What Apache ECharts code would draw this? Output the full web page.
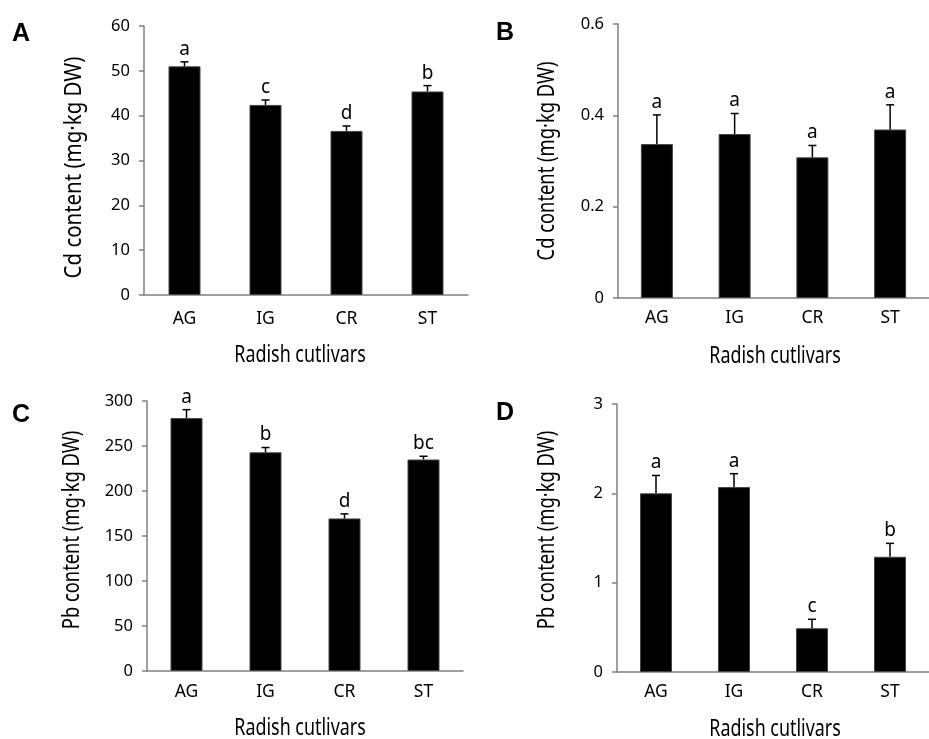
<!DOCTYPE html>
<html>
<head>
<meta charset="utf-8">
<script src="https://cdn.jsdelivr.net/npm/echarts@6/dist/echarts.min.js"></script>
<style>
html,body{margin:0;padding:0;background:#fff;}
#chart{width:929px;height:739px;}
</style>
</head>
<body>
<div id="chart"></div>
<script>
var categories = ['AG', 'IG', 'CR', 'ST'];
var xAxisTitle = 'Radish cutlivars';
var yTitleCd = 'Cd content (mg\u00B7kg DW)';
var yTitlePb = 'Pb content (mg\u00B7kg DW)';

var cdA = [51.0, 42.4, 36.6, 45.4];
var cdAErr = [1.0, 1.1, 1.1, 1.3];
var cdALetters = ['a', 'c', 'd', 'b'];

var cdB = [0.337, 0.359, 0.308, 0.369];
var cdBErr = [0.064, 0.045, 0.026, 0.054];
var cdBLetters = ['a', 'a', 'a', 'a'];

var pbC = [281, 243, 169.5, 235];
var pbCErr = [9.4, 5.3, 5.1, 3.6];
var pbCLetters = ['a', 'b', 'd', 'bc'];

var pbD = [2.0, 2.07, 0.49, 1.29];
var pbDErr = [0.20, 0.15, 0.10, 0.15];
var pbDLetters = ['a', 'a', 'c', 'b'];

var FONT = 'Noto Sans';
var AXIS_GRAY = '#808080';

var panels = [
  {letter: 'A', vals: cdA, err: cdAErr, letters: cdALetters, name: yTitleCd, max: 60, interval: 10,
   grid: {left: 144, top: 26, width: 324, height: 269}, yName: [74, 167.5], yScale: 0.87,
   labelMargin: 15, xName: [300, 355.5], lx: 12, ly: 22},
  {letter: 'B', vals: cdB, err: cdBErr, letters: cdBLetters, name: yTitleCd, max: 0.6, interval: 0.2,
   grid: {left: 618, top: 24, width: 321, height: 274}, yName: [547.5, 161], yScale: 0.78,
   labelMargin: 11, xName: [775, 356], lx: 496, ly: 21},
  {letter: 'C', vals: pbC, err: pbCErr, letters: pbCLetters, name: yTitlePb, max: 300, interval: 50,
   grid: {left: 147, top: 401, width: 316, height: 270}, yName: [72.5, 530], yScale: 0.78,
   labelMargin: 12, xName: [300, 728], lx: 12, ly: 403},
  {letter: 'D', vals: pbD, err: pbDErr, letters: pbDLetters, name: yTitlePb, max: 3, interval: 1,
   grid: {left: 617, top: 404, width: 316, height: 268}, yName: [547, 530], yScale: 0.78,
   labelMargin: 11, xName: [775, 729], lx: 496, ly: 401}
];

var grids = [], xAxes = [], yAxes = [], series = [], titles = [], graphics = [];

panels.forEach(function (p, i) {
  grids.push(p.grid);
  titles.push({text: p.letter, left: p.lx, top: p.ly, padding: 0,
    textStyle: {fontFamily: 'Liberation Sans', fontWeight: 'bold', fontSize: 25, color: '#000'}});
  graphics.push({
    type: 'text', x: p.xName[0], y: p.xName[1], scaleX: 0.745, scaleY: 1,
    style: {text: xAxisTitle, fill: '#000', font: '24px "' + FONT + '"', textAlign: 'center', textVerticalAlign: 'middle'}
  });
  graphics.push({
    type: 'text', x: p.yName[0], y: p.yName[1], rotation: Math.PI / 2, scaleX: p.yScale, scaleY: 1,
    style: {text: p.name, fill: '#000', font: '23.5px "' + FONT + '"', textAlign: 'center', textVerticalAlign: 'middle'}
  });
  xAxes.push({
    type: 'category', gridIndex: i, data: categories,
    axisLine: {lineStyle: {color: AXIS_GRAY, width: 1.5}},
    axisTick: {show: false},
    axisLabel: {margin: p.labelMargin, fontFamily: FONT, fontSize: 17.5, color: '#000'}
  });
  yAxes.push({
    type: 'value', gridIndex: i, min: 0, max: p.max, interval: p.interval,
    axisLine: {show: true, lineStyle: {color: AXIS_GRAY, width: 1.5}},
    axisTick: {show: true, length: 5, lineStyle: {color: AXIS_GRAY, width: 1.5}},
    splitLine: {show: false},
    axisLabel: {margin: 14, fontFamily: FONT, fontSize: 16.5, color: '#000'}
  });
  series.push({
    type: 'bar', xAxisIndex: i, yAxisIndex: i, data: p.vals, barWidth: 32,
    itemStyle: {color: '#000', borderColor: '#444', borderWidth: 1}
  });
  var errData = p.vals.map(function (v, k) { return [k, v, p.err[k]]; });
  series.push({
    type: 'custom', xAxisIndex: i, yAxisIndex: i, data: errData,
    encode: {x: 0, y: 1},
    renderItem: function (params, api) {
      var k = api.value(0), v = api.value(1), e = api.value(2);
      var lt = p.letters[k];
      var base = api.coord([k, v]);
      var top = api.coord([k, v + e]);
      var hw = 4;
      return {
        type: 'group',
        children: [
          {type: 'line', shape: {x1: base[0], y1: base[1], x2: top[0], y2: top[1]},
           style: {stroke: '#000', lineWidth: 1.5}},
          {type: 'line', shape: {x1: top[0] - hw, y1: top[1], x2: top[0] + hw, y2: top[1]},
           style: {stroke: '#000', lineWidth: 1.5}},
          {type: 'text', x: top[0], y: top[1] - 3,
           style: {text: lt, fill: '#000', font: '19px "' + FONT + '"', textAlign: 'center', textVerticalAlign: 'bottom'}}
        ]
      };
    },
    z: 5
  });
});

var chart = echarts.init(document.getElementById('chart'), null, {renderer: 'canvas'});
chart.setOption({
  backgroundColor: '#fff',
  animation: false,
  title: titles,
  grid: grids,
  xAxis: xAxes,
  yAxis: yAxes,
  series: series,
  graphic: graphics
});
</script>
</body>
</html>
